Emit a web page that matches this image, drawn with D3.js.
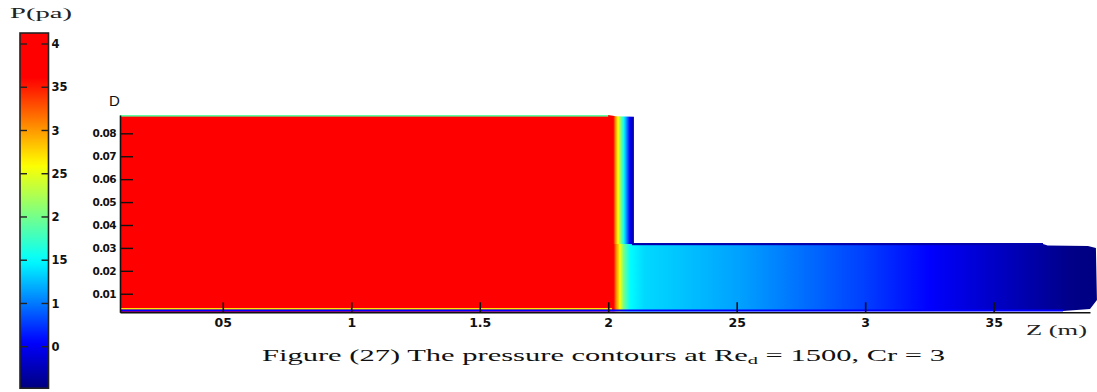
<!DOCTYPE html>
<html>
<head>
<meta charset="utf-8">
<script src="https://cdn.jsdelivr.net/npm/d3@7"></script>
<style>
  html, body { margin: 0; padding: 0; background: #fff; }
  svg { display: block; }
  .tick text { fill: #111; }
</style>
</head>
<body>
<script>
const width = 1097;
const height = 392;

// axis ticks (labels as printed in the figure)
const zTicks = [0.5, 1, 1.5, 2, 2.5, 3, 3.5];
const zTickLabels = ["05", "1", "1.5", "2", "25", "3", "35"];
const dTicks = [0.01, 0.02, 0.03, 0.04, 0.05, 0.06, 0.07, 0.08];
const dTickLabels = ["0.01", "0.02", "0.03", "0.04", "0.05", "0.06", "0.07", "0.08"];
const barTicks = [4, 3.5, 3, 2.5, 2, 1.5, 1, 0.5];
const barTickLabels = ["4", "35", "3", "25", "2", "15", "1", "0"];

// colour map (jet-like), pressure -> colour
const cmapValues = [0.02, 0.55, 1.5, 2.6, 3.6, 4.13];
const cmapColors = ["#00007f", "#0000ff", "#00ffff", "#ffff00", "#ff0000", "#ff0000"];

// pressure along z, upstream pipe part above the outlet
const upperZ = [0.1, 2.015, 2.027, 2.038, 2.05, 2.061, 2.073, 2.085, 2.1];
const upperP = [4.12, 3.95, 3.1, 2.6, 2.0, 1.5, 1.0, 0.5, 0.12];
// pressure along z, core flow (inlet + outlet pipe)
const lowerZ = [0.1, 2.015, 2.03, 2.045, 2.06, 2.085, 2.14, 2.51, 3.0, 3.5, 3.8, 3.9];
const lowerP = [4.12, 3.95, 3.1, 2.6, 2.0, 1.5, 1.36, 1.15, 0.78, 0.32, 0.06, 0.03];

// geometry (m)
const zStart = 0.1;
const zStep = 2.1;
const zEnd = 3.875;
const dBottom = 0.0019;
const dBig = 0.088;
const dSmall = 0.0317;
const upperOutline = [[0.1, 0.088], [2.0, 0.088], [2.03, 0.0875], [2.1, 0.0872], [2.1, 0.0317], [0.1, 0.0317]];
const outletOutline = [[0.1, 0.0317], [3.692, 0.0317], [3.71, 0.0311], [3.867, 0.0308], [3.898, 0.03],
  [3.902, 0.0073], [3.875, 0.0033], [3.77, 0.0025], [0.1, 0.0019]];

const svg = d3.select("body").append("svg")
  .attr("width", width)
  .attr("height", height);
const defs = svg.append("defs");

const color = d3.scaleLinear()
  .domain(cmapValues)
  .range(cmapColors)
  .interpolate(d3.interpolateRgb)
  .clamp(true);

const x = d3.scaleLinear().domain([zStart, zEnd]).range([120, 1090]);
const y = d3.scaleLinear().domain([dBottom, dBig]).range([312.3, 115]);
const barY = d3.scaleLinear().domain([0.5, 4]).range([346.7, 44]);

// horizontal gradient following the pressure samples
function fieldGradient(id, zs, ps) {
  const x1 = x(zs[0]);
  const x2 = x(zs[zs.length - 1]);
  const g = defs.append("linearGradient")
    .attr("id", id)
    .attr("gradientUnits", "userSpaceOnUse")
    .attr("x1", x1).attr("x2", x2).attr("y1", 0).attr("y2", 0);
  const stops = [];
  for (let i = 0; i < zs.length - 1; i++) {
    const steps = 6;
    for (let k = 0; k < steps; k++) {
      const t = k / steps;
      stops.push({
        off: (x(zs[i] + t * (zs[i + 1] - zs[i])) - x1) / (x2 - x1),
        c: color(ps[i] + t * (ps[i + 1] - ps[i]))
      });
    }
  }
  stops.push({ off: 1, c: color(ps[ps.length - 1]) });
  g.selectAll("stop").data(stops).join("stop")
    .attr("offset", (d) => d.off)
    .attr("stop-color", (d) => d.c);
}

fieldGradient("gUpper", upperZ, upperP);
fieldGradient("gLower", lowerZ, lowerP);

const line = d3.line().x((d) => x(d[0])).y((d) => y(d[1]));

svg.append("path")
  .attr("d", line(upperOutline) + "Z")
  .attr("fill", "url(#gUpper)");
svg.append("path")
  .attr("d", line(outletOutline) + "Z")
  .attr("fill", "url(#gLower)");

// thin wall layers
svg.append("rect")
  .attr("x", x(zStart)).attr("y", y(dBig))
  .attr("width", x(2.0) - x(zStart)).attr("height", 1.6)
  .attr("fill", color(1.9));
svg.append("rect")
  .attr("x", x(zStart)).attr("y", y(dBottom) - 4.3)
  .attr("width", x(2.015) - x(zStart)).attr("height", 1.6)
  .attr("fill", color(2.7));
svg.append("rect")
  .attr("x", x(zStart)).attr("y", y(dBottom) - 2.8)
  .attr("width", x(3.77) - x(zStart)).attr("height", 2)
  .attr("fill", color(0.55));
svg.append("rect")
  .attr("x", x(zStep) - 2).attr("y", y(dSmall) - 1)
  .attr("width", x(3.692) - x(zStep) + 2).attr("height", 2.2)
  .attr("fill", color(0.22));

// axes
const bottomAxis = d3.axisBottom(x)
  .tickValues(zTicks)
  .tickFormat((d, i) => zTickLabels[i])
  .tickSizeInner(-10)
  .tickSizeOuter(0)
  .tickPadding(6);
const gx = svg.append("g")
  .attr("transform", `translate(0,${y(dBottom)})`)
  .call(bottomAxis);
gx.select(".domain").attr("stroke", "#111").attr("stroke-width", 1.6);
gx.selectAll(".tick line").attr("stroke", "#111").attr("stroke-width", 1.6);
gx.selectAll(".tick text")
  .attr("font-family", "DejaVu Sans")
  .attr("font-weight", "bold")
  .attr("font-size", 12.5);

const leftAxis = d3.axisLeft(y)
  .tickValues(dTicks)
  .tickFormat((d, i) => dTickLabels[i])
  .tickSizeInner(-13)
  .tickSizeOuter(0)
  .tickPadding(4);
const gy = svg.append("g")
  .attr("transform", `translate(${x(zStart)},0)`)
  .call(leftAxis);
gy.select(".domain").attr("stroke", "#111").attr("stroke-width", 1.6);
gy.selectAll(".tick line").attr("stroke", "#111").attr("stroke-width", 1.4);
gy.selectAll(".tick text")
  .attr("font-family", "DejaVu Sans")
  .attr("font-weight", "bold")
  .attr("font-size", 10.5)
  .attr("letter-spacing", -0.6);

svg.append("text")
  .attr("x", 109).attr("y", 105.5)
  .attr("font-family", "Liberation Sans")
  .attr("font-size", 15)
  .attr("fill", "#111")
  .text("D");

svg.append("text")
  .attr("x", 1026).attr("y", 335)
  .attr("font-family", "Liberation Serif")
  .attr("font-size", 14)
  .attr("textLength", 61)
  .attr("lengthAdjust", "spacingAndGlyphs")
  .attr("fill", "#222")
  .text("Z (m)");

// colour bar
const barX = 20;
const barW = 28.5;
const barTop = barY(4.127);
const barBottom = barY(0.02);
const bg = defs.append("linearGradient")
  .attr("id", "gBar")
  .attr("gradientUnits", "userSpaceOnUse")
  .attr("x1", 0).attr("x2", 0).attr("y1", barBottom).attr("y2", barTop);
const barStops = d3.range(0, 41).map((i) => 0.02 + (i / 40) * (4.127 - 0.02));
bg.selectAll("stop").data(barStops).join("stop")
  .attr("offset", (v) => (barY(v) - barBottom) / (barTop - barBottom))
  .attr("stop-color", (v) => color(v));

svg.append("rect")
  .attr("x", barX).attr("y", barTop)
  .attr("width", barW).attr("height", barBottom - barTop)
  .attr("fill", "url(#gBar)")
  .attr("stroke", "#222")
  .attr("stroke-width", 1.6);

const bt = svg.append("g").selectAll("g").data(barTicks).join("g")
  .attr("transform", (d) => `translate(0,${barY(d)})`);
bt.append("line")
  .attr("x1", barX).attr("x2", barX + 7)
  .attr("stroke", "#222").attr("stroke-width", 1.4);
bt.append("line")
  .attr("x1", barX + barW - 7).attr("x2", barX + barW)
  .attr("stroke", "#222").attr("stroke-width", 1.4);
bt.append("text")
  .attr("x", barX + barW + 3)
  .attr("dy", "0.36em")
  .attr("font-family", "DejaVu Sans")
  .attr("font-weight", "bold")
  .attr("font-size", 11.5)
  .attr("fill", "#111")
  .text((d, i) => barTickLabels[i]);

svg.append("text")
  .attr("x", 10).attr("y", 18)
  .attr("font-family", "Liberation Serif")
  .attr("font-size", 15)
  .attr("textLength", 62)
  .attr("lengthAdjust", "spacingAndGlyphs")
  .attr("fill", "#222")
  .text("P(pa)");

// caption
const cap = svg.append("text")
  .attr("x", 262).attr("y", 361)
  .attr("font-family", "Liberation Serif")
  .attr("font-size", 16.5)
  .attr("fill", "#111")
  .attr("textLength", 683)
  .attr("lengthAdjust", "spacingAndGlyphs");
cap.append("tspan").text("Figure (27) The pressure contours at Re");
cap.append("tspan").attr("font-size", 11).attr("dy", 3).text("d");
cap.append("tspan").attr("dy", -3).text(" = 1500, Cr = 3");
</script>
</body>
</html>
